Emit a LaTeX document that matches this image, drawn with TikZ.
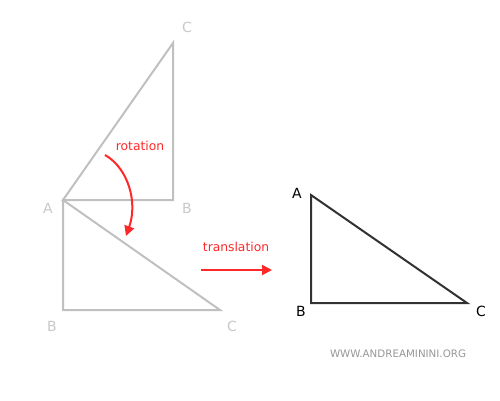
\documentclass[tikz,border=0pt]{standalone}
\usepackage{fontspec}
\setmainfont{DejaVu Sans}
\usetikzlibrary{arrows.meta}
\definecolor{lgray}{RGB}{192,192,192}
\definecolor{lbl}{RGB}{200,200,200}
\definecolor{myred}{RGB}{255,40,40}
\definecolor{dark}{RGB}{50,50,50}
\definecolor{wm}{RGB}{150,150,150}
\begin{document}
\begin{tikzpicture}[x=1pt,y=-1pt,
  ghost/.style={draw=lgray,line width=2pt,line join=miter},
  solid/.style={draw=dark,line width=2pt},
  glabel/.style={text=lbl,font=\fontsize{14}{16}\selectfont,inner sep=0pt},
  dlabel/.style={text=black,font=\fontsize{14}{16}\selectfont,inner sep=0pt},
  rlabel/.style={text=myred,font=\fontsize{12.3}{14}\selectfont,inner sep=0pt},
  redarrow/.style={draw=myred,line width=2pt,-{Triangle[length=10pt,width=10pt]}}]
\useasboundingbox (0,0) rectangle (500,400);
% top (gray) triangle
\coordinate (A1) at (63,200);
\coordinate (B1) at (173,200);
\coordinate (C1) at (173,43);
\draw[ghost] (A1) -- (B1) -- (C1) -- cycle;
\node[glabel] (lC1) at (187,27) {C};
\node[glabel] (lA1) at (48,208) {A};
\node[glabel] (lB1) at (187,208) {B};
% lower (gray) triangle
\coordinate (B2) at (63,310);
\coordinate (C2) at (220,310);
\draw[ghost] (A1) -- (B2) -- (C2) -- cycle;
\node[glabel] (lB2) at (52,326) {B};
\node[glabel] (lC2) at (232,326) {C};
% final triangle
\coordinate (A3) at (311,195);
\coordinate (B3) at (311,303);
\coordinate (C3) at (467,303);
\draw[solid] (A3) -- (B3) -- (C3) -- cycle;
\node[dlabel] (lA3) at (297,193) {A};
\node[dlabel] (lB3) at (301,311) {B};
\node[dlabel] (lC3) at (481,311) {C};
% rotation
\node[rlabel] (rot) at (140,146) {rotation};
\coordinate (r0) at (105,155);
\coordinate (r1) at (126,236);
\draw[redarrow] (r0) .. controls (128,168) and (138,202) .. (r1);
% translation
\node[rlabel] (tr) at (236,247) {translation};
\coordinate (t0) at (201,270);
\coordinate (t1) at (272,270);
\draw[redarrow] (t0) -- (t1);
% watermark
\node[text=wm,font=\fontsize{10.3}{12}\selectfont,inner sep=0pt] (wmk) at (398,354) {WWW.ANDREAMININI.ORG};
\end{tikzpicture}
\end{document}
